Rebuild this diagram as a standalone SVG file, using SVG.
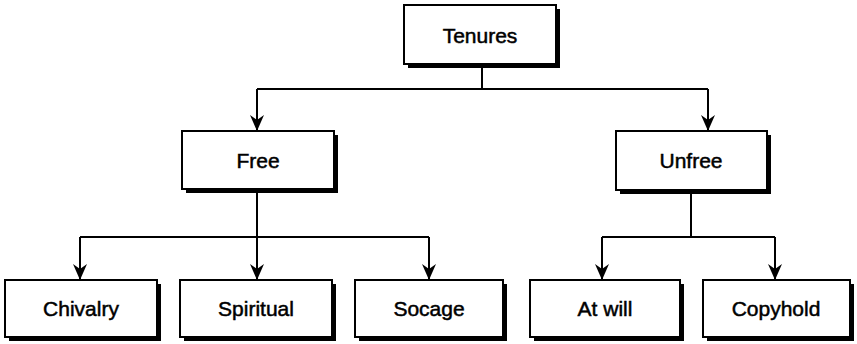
<svg xmlns="http://www.w3.org/2000/svg" width="857" height="344" viewBox="0 0 857 344">
<style>
.box{fill:#fff;stroke:#000;stroke-width:2}
.sh{fill:#000}
.t{font-family:"Liberation Sans",Arial,sans-serif;font-size:21px;fill:#000;stroke:#000;stroke-width:0.5;text-anchor:middle}
.c{fill:none;stroke:#000;stroke-width:2}
</style>
<defs>
<marker id="ar" viewBox="0 0 16 14" refX="15" refY="7" markerWidth="16" markerHeight="14" markerUnits="userSpaceOnUse" orient="auto">
<path d="M0,0 L16,7 L0,14 L5,7 Z" fill="#000"/>
</marker>
</defs>
<rect width="857" height="344" fill="#fff"/>
<g id="connectors">
<path class="c" d="M482,64 V89"/>
<path class="c" d="M257,89 H708"/>
<path class="c" d="M257,89 V130" marker-end="url(#ar)"/>
<path class="c" d="M708,89 V130" marker-end="url(#ar)"/>
<path class="c" d="M257,189 V279" marker-end="url(#ar)"/>
<path class="c" d="M80,237 H429"/>
<path class="c" d="M80,237 V279" marker-end="url(#ar)"/>
<path class="c" d="M429,237 V279" marker-end="url(#ar)"/>
<path class="c" d="M691,190 V237"/>
<path class="c" d="M602,237 H775"/>
<path class="c" d="M602,237 V279" marker-end="url(#ar)"/>
<path class="c" d="M775,237 V279" marker-end="url(#ar)"/>
</g>
<g id="tenures">
<rect class="sh" x="408" y="9" width="152" height="59"/>
<rect class="box" x="404" y="5" width="152" height="59"/>
<text class="t" x="480" y="43">Tenures</text>
</g>
<g id="free">
<rect class="sh" x="186" y="135" width="152" height="58"/>
<rect class="box" x="182" y="131" width="152" height="58"/>
<text class="t" x="258" y="168">Free</text>
</g>
<g id="unfree">
<rect class="sh" x="620" y="135" width="151" height="59"/>
<rect class="box" x="616" y="131" width="151" height="59"/>
<text class="t" x="691" y="168">Unfree</text>
</g>
<g id="chivalry">
<rect class="sh" x="9" y="284" width="152" height="57"/>
<rect class="box" x="5" y="280" width="152" height="57"/>
<text class="t" x="81" y="316">Chivalry</text>
</g>
<g id="spiritual">
<rect class="sh" x="184" y="284" width="152" height="57"/>
<rect class="box" x="180" y="280" width="152" height="57"/>
<text class="t" x="256" y="316">Spiritual</text>
</g>
<g id="socage">
<rect class="sh" x="359" y="284" width="148" height="57"/>
<rect class="box" x="355" y="280" width="148" height="57"/>
<text class="t" x="429" y="316">Socage</text>
</g>
<g id="atwill">
<rect class="sh" x="534" y="284" width="150" height="57"/>
<rect class="box" x="530" y="280" width="150" height="57"/>
<text class="t" x="605" y="316">At will</text>
</g>
<g id="copyhold">
<rect class="sh" x="707" y="284" width="147" height="57"/>
<rect class="box" x="703" y="280" width="147" height="57"/>
<text class="t" x="776" y="316">Copyhold</text>
</g>
</svg>
